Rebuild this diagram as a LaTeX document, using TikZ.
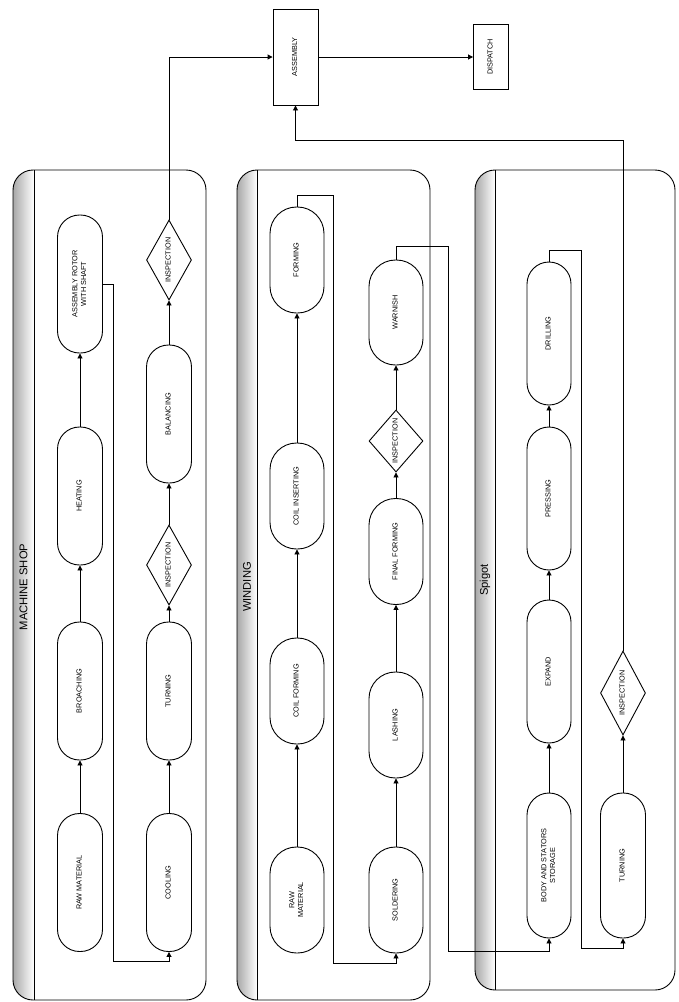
\documentclass[tikz,border=0pt]{standalone}
\usepackage{fontspec}
\setmainfont{Liberation Sans}
\usepackage{graphicx}
\usetikzlibrary{shapes.geometric, arrows.meta, calc}
\definecolor{laneshade}{HTML}{A8A8A8}

\newcommand{\vlabel}[1]{\rotatebox{90}{\begin{tabular}{@{}c@{}}#1\end{tabular}}}

\begin{document}
\begin{tikzpicture}[x=1pt, y=-1pt,
    process/.style={draw, fill=white, line width=0.9pt, rounded corners=22pt, minimum width=45pt, minimum height=138pt, inner sep=0pt, font=\fontsize{7.3}{8.6}\selectfont},
    wprocess/.style={process, rounded corners=26.5pt, minimum width=54pt, minimum height=106pt},
    check/.style={diamond, draw, fill=white, line width=0.9pt, aspect=0.5, inner sep=0pt, minimum width=45pt, minimum height=80pt, font=\fontsize{7.3}{8.6}\selectfont},
    block/.style={draw, fill=white, line width=0.9pt, inner sep=0pt, font=\fontsize{7.3}{8.6}\selectfont},
    title/.style={rotate=90, font=\fontsize{11.2}{13}\selectfont},
    arrow/.style={-{Triangle[length=5pt, width=5pt]}, line width=0.9pt}
]
\useasboundingbox (0,0) rectangle (678,1002);

% Swim lanes
\foreach \xa/\xb/\xc/\yb in {13/34/206/1000, 237/257/430/1000, 475/495/675/990} {
    \begin{scope}
        \clip[rounded corners=20pt] (\xa,170) rectangle (\xc,\yb);
        \shade[left color=laneshade, right color=white] (\xa,170) rectangle (\xb,\yb);
    \end{scope}
    \draw[line width=0.9pt, rounded corners=20pt] (\xa,170) rectangle (\xc,\yb);
    \draw[line width=0.9pt] (\xb,170) -- (\xb,\yb);
}
\node[title] (tshop) at (23.5,587) {MACHINE SHOP};
\node[title] (twind) at (247,587) {WINDING};
\node[title] (tspig) at (485,580) {Spigot};

% Top
\node[block, minimum width=45pt, minimum height=96pt] (assembly) at (295.5,57) {\vlabel{ASSEMBLY}};
\node[block, minimum width=35pt, minimum height=65pt] (dispatch) at (491,57) {\vlabel{DISPATCH}};

% Machine shop
\node[process] (rawmat) at (80,882.5) {\vlabel{RAW MATERIAL}};
\node[process] (broach) at (80,691) {\vlabel{BROACHING}};
\node[process] (heat) at (80,496) {\vlabel{HEATING}};
\node[process] (rotor) at (80,284) {\vlabel{ASSEMBLY ROTOR\\WITH SHAFT}};
\node[process] (cool) at (169,882.5) {\vlabel{COOLING}};
\node[process] (turn) at (169,691) {\vlabel{TURNING}};
\node[check] (inspa) at (169,565) {\vlabel{INSPECTION}};
\node[process] (balance) at (169,414) {\vlabel{BALANCING}};
\node[check] (inspb) at (169,260) {\vlabel{INSPECTION}};

% Winding
\node[wprocess] (wraw) at (297,900) {\vlabel{RAW\\MATERIAL}};
\node[wprocess] (coilform) at (297,691) {\vlabel{COIL FORMING}};
\node[wprocess] (coilins) at (297,496) {\vlabel{COIL INSERTING}};
\node[wprocess] (forming) at (297,260) {\vlabel{FORMING}};
\node[wprocess] (solder) at (396,900) {\vlabel{SOLDERING}};
\node[wprocess] (lash) at (396,725) {\vlabel{LASHING}};
\node[wprocess] (finform) at (396,551.5) {\vlabel{FINAL FORMING}};
\node[check, aspect=0.87, minimum width=54pt, minimum height=62pt] (inspc) at (396,441) {\vlabel{INSPECTION}};
\node[wprocess, minimum height=105pt] (warnish) at (396,312.5) {\vlabel{WARNISH}};

% Spigot
\node[process, minimum width=44pt, minimum height=145pt] (body) at (549,865.5) {\vlabel{BODY AND STATORS\\STORAGE}};
\node[process, minimum width=44pt, minimum height=143pt] (expand) at (549,671.5) {\vlabel{EXPAND}};
\node[process, minimum width=44pt, minimum height=143pt] (press) at (549,498.5) {\vlabel{PRESSING}};
\node[process, minimum width=44pt, minimum height=143pt] (drill) at (549,333.5) {\vlabel{DRILLING}};
\node[process, minimum height=145pt] (sturn) at (623,865.5) {\vlabel{TURNING}};
\node[check, minimum height=84pt] (inspd) at (623,693) {\vlabel{INSPECTION}};

% Flow - machine shop
\draw[arrow] (rawmat.north) -- (broach.south);
\draw[arrow] (broach.north) -- (heat.south);
\draw[arrow] (heat.north) -- (rotor.south);
\draw[arrow] (rotor.east) -- ++(10,0) -- ++(0,677) -| (cool.south);
\draw[arrow] (cool.north) -- (turn.south);
\draw[arrow] (turn.north) -- (inspa.south);
\draw[arrow] (inspa.north) -- (balance.south);
\draw[arrow] (balance.north) -- (inspb.south);
\draw[arrow] (inspb.north) |- (assembly.west);

% Flow - winding
\draw[arrow] (wraw.north) -- (coilform.south);
\draw[arrow] (coilform.north) -- (coilins.south);
\draw[arrow] (coilins.north) -- (forming.south);
\draw[arrow] (forming.north) -- ++(0,-11) -| (333,963) -| (solder.south);
\draw[arrow] (solder.north) -- (lash.south);
\draw[arrow] (lash.north) -- (finform.south);
\draw[arrow] (finform.north) -- (inspc.south);
\draw[arrow] (inspc.north) -- (warnish.south);
\draw[arrow] (warnish.north) -- ++(0,-13) -| (448,951) -| (body.south);

% Flow - spigot
\draw[arrow] (body.north) -- (expand.south);
\draw[arrow] (expand.north) -- (press.south);
\draw[arrow] (press.north) -- (drill.south);
\draw[arrow] (drill.north) -- ++(0,-11) -| (581,948) -| (sturn.south);
\draw[arrow] (sturn.north) -- (inspd.south);
\draw[arrow] (inspd.north) -- ++(0,-510) -| (assembly.south);

% Final
\draw[arrow] (assembly.east) -- (dispatch.west);

\end{tikzpicture}
\end{document}
